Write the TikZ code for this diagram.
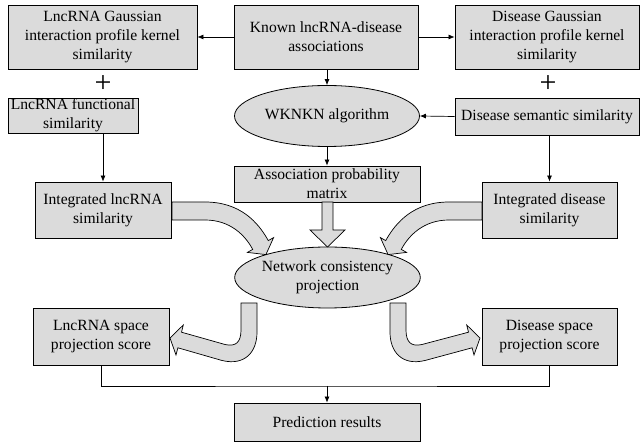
\documentclass[tikz,border=0pt]{standalone}
\usepackage{fontspec}
\setmainfont{Liberation Serif}
\usetikzlibrary{shapes.geometric}
\usetikzlibrary{arrows.meta}
\usetikzlibrary{positioning}
\definecolor{boxgray}{RGB}{219,219,219}

\begin{document}
\begin{tikzpicture}[
    x=1pt, y=-1pt,
    font=\fontsize{15.6}{19}\selectfont
]
\tikzset{
    procbox/.style = {rectangle, draw=black, line width=0.8pt, fill=boxgray, align=center, inner sep=0pt},
    algell/.style = {ellipse, draw=black, line width=0.8pt, fill=boxgray, align=center, inner sep=0pt, minimum width=185pt, minimum height=61pt},
    edgen/.style = {-{Latex[length=6pt,width=5pt]}, line width=0.7pt},
    fatarrow/.style = {draw=black, fill=boxgray, line width=0.7pt}
}
\useasboundingbox (0,0) rectangle (640,443);
\node[procbox, minimum width=189pt, minimum height=64pt] at (102.5,37) (gkl) {LncRNA Gaussian\\interaction profile kernel\\similarity};
\node[procbox, minimum width=184pt, minimum height=64pt] at (326,37) (known) {Known lncRNA-disease\\associations};
\node[procbox, minimum width=184pt, minimum height=64pt] at (547,37) (gkd) {Disease Gaussian\\interaction profile kernel\\similarity};
\node at (103,84) (plusl) {\fontsize{30}{30}\selectfont +};
\node at (548,84) (plusr) {\fontsize{30}{30}\selectfont +};
\node[procbox, minimum width=130pt, minimum height=35pt] at (73,115.5) (fsl) {LncRNA functional\\similarity};
\node[algell] at (327,116) (wknkn) {WKNKN algorithm};
\node[procbox, minimum width=184pt, minimum height=37pt] at (547,116.5) (dss) {Disease semantic similarity};
\node[procbox, minimum width=186pt, minimum height=36pt] at (327,184) (apm) {Association probability\\matrix};
\node[procbox, minimum width=136pt, minimum height=56pt] at (103,210) (ils) {Integrated lncRNA\\similarity};
\node[procbox, minimum width=135pt, minimum height=56pt] at (549.5,210) (ids) {Integrated disease\\similarity};
\node[algell] at (327.5,277.5) (ncp) {Network consistency\\projection};
\node[procbox, minimum width=136pt, minimum height=57pt] at (101,336.5) (lsp) {LncRNA space\\projection score};
\node[procbox, minimum width=135pt, minimum height=57pt] at (549.5,336.5) (dsp) {Disease space\\projection score};
\node[procbox, minimum width=186pt, minimum height=38pt] at (327,422) (pr) {Prediction results};

% thin connectors
\draw[edgen] (known) -- (gkl);
\draw[edgen] (known) -- (gkd);
\draw[edgen] (wknkn.north |- known.south) -- (wknkn.north);
\draw[edgen] (dss.west) -- (wknkn.east);
\draw[edgen] (wknkn.south) -- (wknkn.south |- apm.north);
\draw[edgen] (ils.north |- fsl.south) -- (ils.north);
\draw[edgen] (ids.north |- dss.south) -- (ids.north);
\coordinate (join) at (327,386);
\draw[line width=0.7pt] (lsp.south) |- (join) -| (dsp.south);
\draw[edgen] (join) -- (join |- pr.north);

% block arrows
\draw[fatarrow] (322,202) -- (322,230) -- (310,230) -- (327.5,247) -- (345,230) -- (333,230) -- (333,202) -- cycle;
\draw[fatarrow] (172,202) -- (205,202) .. controls (240,202) and (258,222) .. (268.3,240.6) -- (273.6,237.6) -- (265.9,254.6) -- (247.4,252.4) -- (252.7,249.4) .. controls (245,235) and (230,220) .. (205,220) -- (172,220) -- cycle;
\draw[fatarrow] (482,202) -- (449,202) .. controls (414,202) and (396,222) .. (385.7,240.6) -- (380.4,237.6) -- (388.1,254.6) -- (406.6,252.4) -- (401.3,249.4) .. controls (409,235) and (424,220) .. (449,220) -- (482,220) -- cycle;
\draw[fatarrow] (241,303) -- (241,330) .. controls (241,342) and (236,347) .. (225,344.5) -- (181.5,332.2) -- (183.3,325) -- (170,338) -- (176,355) -- (177.9,347.8) -- (222,360.5) .. controls (245,366) and (257,352) .. (257,332) -- (257,303) -- cycle;
\draw[fatarrow] (406,303) -- (406,330) .. controls (406,342) and (411,347) .. (422,344.5) -- (468.5,332.2) -- (466.7,325) -- (480,338) -- (474,355) -- (472.1,347.8) -- (425,360.5) .. controls (402,366) and (390,352) .. (390,332) -- (390,303) -- cycle;
\end{tikzpicture}
\end{document}
